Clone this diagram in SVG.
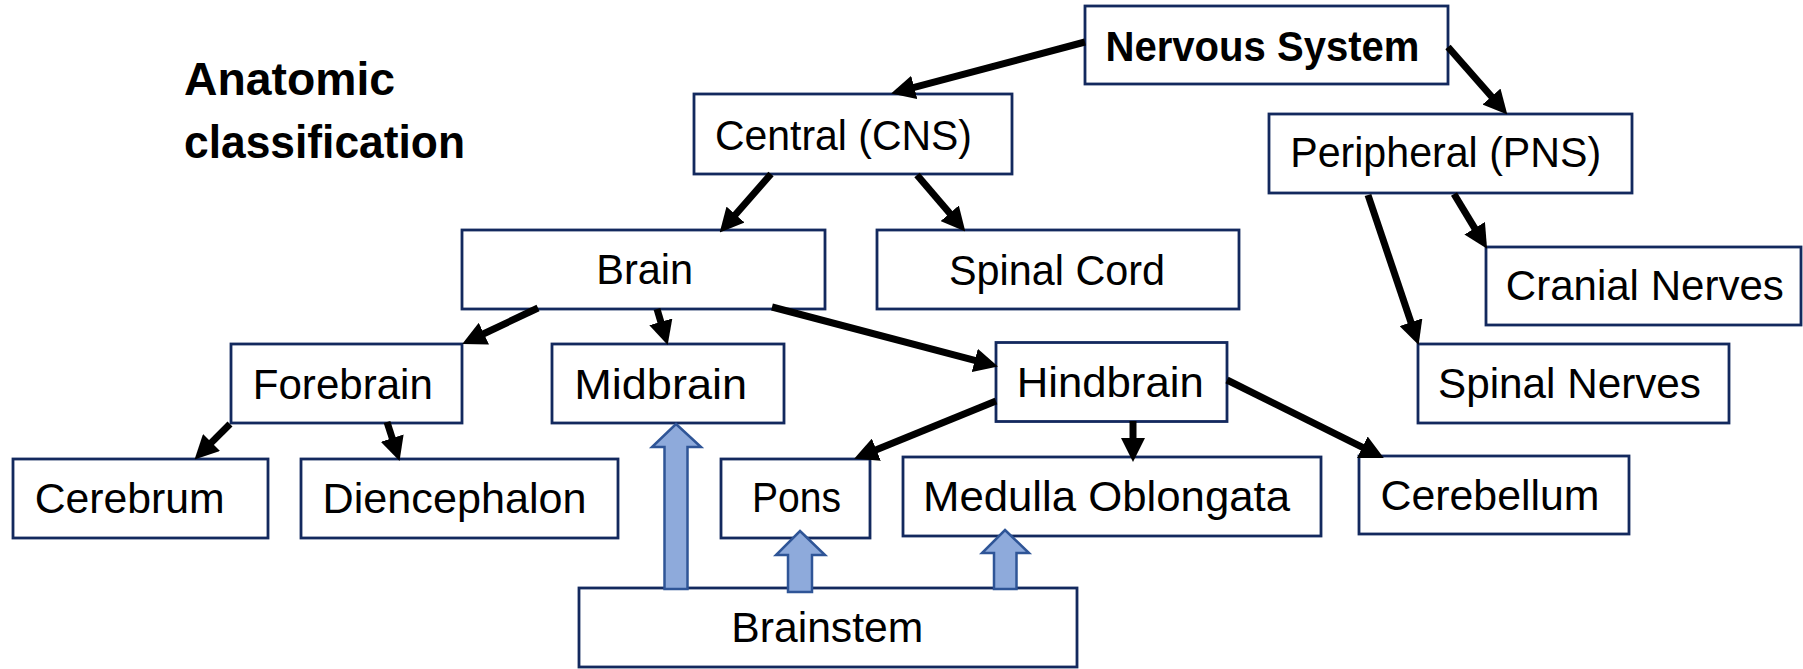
<svg xmlns="http://www.w3.org/2000/svg" width="1803" height="669" viewBox="0 0 1803 669">
<style>
.box{fill:#fff;stroke:#13295e;stroke-width:2.8}
.t{font-family:"Liberation Sans",Arial,sans-serif;font-size:42px;fill:#000;text-anchor:middle}
.b{font-weight:bold}
.title{font-family:"Liberation Sans",Arial,sans-serif;font-size:47px;font-weight:bold;fill:#000}
.ln{stroke:#000;stroke-width:7;fill:none;marker-end:url(#ah)}
.blk{fill:#8eaadb;stroke:#2f5597;stroke-width:2.5;stroke-linejoin:miter}
</style>
<defs>
<marker id="ah" viewBox="0 0 24 24" refX="2" refY="12" markerWidth="24" markerHeight="24" markerUnits="userSpaceOnUse" orient="auto">
<path d="M0,0 L24,12 L0,24 z" fill="#000"/>
</marker>
</defs>
<rect width="1803" height="669" fill="#fff"/>
<g id="title">
<text class="title" x="184" y="95" textLength="211" lengthAdjust="spacingAndGlyphs">Anatomic</text>
<text class="title" x="184" y="158" textLength="281" lengthAdjust="spacingAndGlyphs">classification</text>
</g>
<g id="nervous-system"><rect class="box" x="1085" y="6" width="363" height="78"/><text class="t b" x="1262.5" y="61" textLength="314" lengthAdjust="spacingAndGlyphs">Nervous System</text></g>
<g id="central"><rect class="box" x="694" y="94" width="318" height="80"/><text class="t" x="843.5" y="150" textLength="257" lengthAdjust="spacingAndGlyphs">Central (CNS)</text></g>
<g id="peripheral"><rect class="box" x="1269" y="114" width="363" height="79"/><text class="t" x="1445.7" y="167" textLength="311" lengthAdjust="spacingAndGlyphs">Peripheral (PNS)</text></g>
<g id="brain"><rect class="box" x="462" y="230" width="363" height="79"/><text class="t" x="644.7" y="284" textLength="97" lengthAdjust="spacingAndGlyphs">Brain</text></g>
<g id="spinal-cord"><rect class="box" x="877" y="230" width="362" height="79"/><text class="t" x="1057" y="285" textLength="216" lengthAdjust="spacingAndGlyphs">Spinal Cord</text></g>
<g id="cranial-nerves"><rect class="box" x="1486" y="247" width="315" height="78"/><text class="t" x="1644.8" y="300" textLength="278" lengthAdjust="spacingAndGlyphs">Cranial Nerves</text></g>
<g id="forebrain"><rect class="box" x="231" y="344" width="231" height="79"/><text class="t" x="342.8" y="399" textLength="180" lengthAdjust="spacingAndGlyphs">Forebrain</text></g>
<g id="midbrain"><rect class="box" x="552" y="344" width="232" height="79"/><text class="t" x="660.7" y="399" textLength="173" lengthAdjust="spacingAndGlyphs">Midbrain</text></g>
<g id="hindbrain"><rect class="box" x="996" y="342.5" width="231" height="79"/><text class="t" x="1110.2" y="397" textLength="187" lengthAdjust="spacingAndGlyphs">Hindbrain</text></g>
<g id="spinal-nerves"><rect class="box" x="1418" y="344" width="311" height="79"/><text class="t" x="1569.5" y="398" textLength="263" lengthAdjust="spacingAndGlyphs">Spinal Nerves</text></g>
<g id="cerebrum"><rect class="box" x="13" y="459" width="255" height="79"/><text class="t" x="129.7" y="513" textLength="190" lengthAdjust="spacingAndGlyphs">Cerebrum</text></g>
<g id="diencephalon"><rect class="box" x="301" y="459" width="317" height="79"/><text class="t" x="454.6" y="513" textLength="264" lengthAdjust="spacingAndGlyphs">Diencephalon</text></g>
<g id="pons"><rect class="box" x="721" y="459" width="149" height="79"/><text class="t" x="796.5" y="512" textLength="89" lengthAdjust="spacingAndGlyphs">Pons</text></g>
<g id="medulla-oblongata"><rect class="box" x="903" y="457" width="418" height="79"/><text class="t" x="1106.5" y="511" textLength="367" lengthAdjust="spacingAndGlyphs">Medulla Oblongata</text></g>
<g id="cerebellum"><rect class="box" x="1359" y="456" width="270" height="78"/><text class="t" x="1490" y="510" textLength="219" lengthAdjust="spacingAndGlyphs">Cerebellum</text></g>
<g id="brainstem"><rect class="box" x="579" y="588" width="498" height="79"/><text class="t" x="827.3" y="642" textLength="192" lengthAdjust="spacingAndGlyphs">Brainstem</text></g>
<g id="connectors">
<line class="ln" x1="1085" y1="42" x2="912.3" y2="87.9"/>
<line class="ln" x1="1448" y1="47" x2="1492.8" y2="98"/>
<line class="ln" x1="771" y1="174" x2="734.2" y2="216"/>
<line class="ln" x1="917" y1="175" x2="951" y2="214.8"/>
<line class="ln" x1="1454" y1="194" x2="1475.7" y2="229.9"/>
<line class="ln" x1="1368" y1="195" x2="1411.6" y2="324.1"/>
<line class="ln" x1="538" y1="308" x2="482.1" y2="334.5"/>
<line class="ln" x1="657" y1="309" x2="661.4" y2="323.8"/>
<line class="ln" x1="772" y1="307" x2="976.7" y2="360.9"/>
<line class="ln" x1="230" y1="424" x2="210.1" y2="443.9"/>
<line class="ln" x1="387" y1="422" x2="392.8" y2="440"/>
<line class="ln" x1="996" y1="401" x2="874.5" y2="450.5"/>
<line class="ln" x1="1133" y1="421" x2="1133" y2="440"/>
<line class="ln" x1="1227" y1="380" x2="1364.1" y2="448.1"/>
<polygon class="blk" points="676,424 701,447 687.5,447 687.5,589 664.5,589 664.5,447 652,447"/>
<polygon class="blk" points="800,531 825,555 812,555 812,592 788,592 788,555 776,555"/>
<polygon class="blk" points="1005,530 1029,553 1016.5,553 1016.5,589 994,589 994,553 982,553"/>
</g>
</svg>
